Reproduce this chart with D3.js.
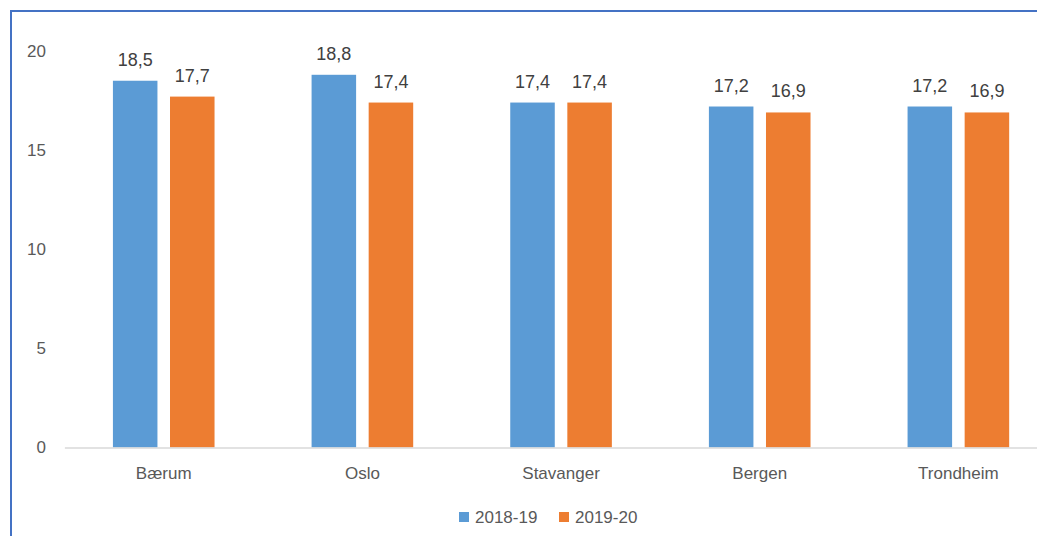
<!DOCTYPE html>
<html>
<head>
<meta charset="utf-8">
<script src="https://cdnjs.cloudflare.com/ajax/libs/d3/7.8.5/d3.min.js"></script>
<style>
	body { margin: 0; background: #fff; }
	svg { display: block; font-family: "Liberation Sans", Arial, sans-serif; }
</style>
</head>
<body>
<div id="chart"></div>
<script>
// Chart data
var categories = ["Bærum", "Oslo", "Stavanger", "Bergen", "Trondheim"];
var seriesNames = ["2018-19", "2019-20"];
var values2018 = [18.5, 18.8, 17.4, 17.2, 17.2];
var values2019 = [17.7, 17.4, 17.4, 16.9, 16.9];
var yTicks = [0, 5, 10, 15, 20];
var colors = ["#5B9BD5", "#ED7D31"];

// SVG width and height
var width = 1037;
var height = 536;

var svg = d3.select("#chart").append("svg")
	.attr("width", width)
	.attr("height", height);

// Blue frame along top and left (chart is cropped on the right/bottom)
svg.append("line")
	.attr("x1", 10).attr("x2", width).attr("y1", 11).attr("y2", 11)
	.attr("stroke", "#4472C4").attr("stroke-width", 2);
svg.append("line")
	.attr("x1", 11).attr("x2", 11).attr("y1", 10).attr("y2", height)
	.attr("stroke", "#4472C4").attr("stroke-width", 2);

// Scales
var x = d3.scaleBand()
	.domain(categories)
	.range([64.4, 1057.7]);
var xs = d3.scaleBand()
	.domain(seriesNames)
	.range([0, x.bandwidth()])
	.paddingInner(0.22)
	.paddingOuter(0.85);
var y = d3.scaleLinear()
	.domain([0, 20])
	.range([447.5, 51]);

// Y axis labels
var yAxis = d3.axisLeft(y).tickValues(yTicks).tickSize(0).tickPadding(0);
var gy = svg.append("g")
	.attr("transform", "translate(46,0)")
	.call(yAxis);
gy.select(".domain").remove();
gy.selectAll("text")
	.attr("fill", "#595959")
	.style("font-size", "17px")
	.style("font-family", "\"Liberation Sans\", Arial, sans-serif");

// Bars
var rows = categories.map(function(c, i){
	return { cat: c, vals: [values2018[i], values2019[i]] };
});
var groups = svg.append("g").selectAll("g")
	.data(rows)
	.enter().append("g")
	.attr("transform", function(d){ return "translate(" + x(d.cat) + ",0)"; });

groups.selectAll("rect")
	.data(function(d){ return d.vals.map(function(v, j){ return { s: seriesNames[j], v: v, j: j }; }); })
	.enter().append("rect")
	.attr("x", function(d){ return xs(d.s); })
	.attr("y", function(d){ return y(d.v); })
	.attr("width", xs.bandwidth())
	.attr("height", function(d){ return y(0) - y(d.v); })
	.attr("fill", function(d){ return colors[d.j]; });

// Data labels
groups.selectAll("text")
	.data(function(d){ return d.vals.map(function(v, j){ return { s: seriesNames[j], v: v }; }); })
	.enter().append("text")
	.attr("x", function(d){ return xs(d.s) + xs.bandwidth() / 2; })
	.attr("y", function(d){ return y(d.v) - 15; })
	.attr("text-anchor", "middle")
	.attr("fill", "#404040")
	.style("font-size", "18px")
	.text(function(d){ return d3.format(".1f")(d.v).replace(".", ","); });

// X axis baseline and category labels
var xAxis = d3.axisBottom(x).tickSize(0).tickPadding(19);
var gx = svg.append("g")
	.attr("transform", "translate(0," + y(0) + ")")
	.call(xAxis);
gx.select(".domain")
	.attr("stroke", "#D9D9D9")
	.attr("stroke-width", 1.3);
gx.selectAll("text")
	.attr("fill", "#595959")
	.style("font-size", "17px")
	.style("font-family", "\"Liberation Sans\", Arial, sans-serif");

// Legend
var legend = svg.append("g")
	.selectAll("g")
	.data(seriesNames)
	.enter().append("g")
	.attr("transform", function(d, i){ return "translate(" + (459 + i * 100) + ",512)"; });
legend.append("rect")
	.attr("width", 10).attr("height", 10)
	.attr("fill", function(d, i){ return colors[i]; });
legend.append("text")
	.attr("x", 16).attr("y", 10.5)
	.attr("fill", "#595959")
	.style("font-size", "17px")
	.text(function(d){ return d; });
</script>
</body>
</html>
